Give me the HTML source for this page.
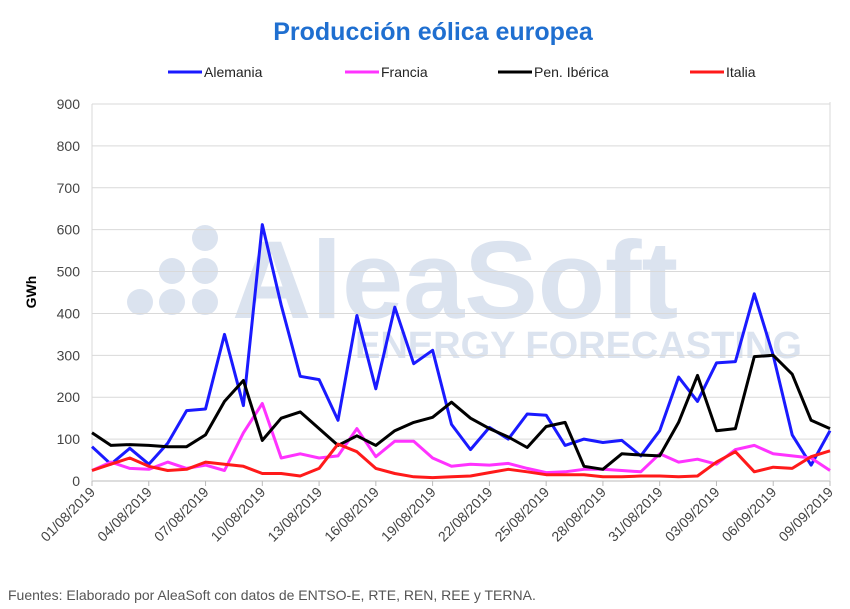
<!DOCTYPE html>
<html><head><meta charset="utf-8"><style>
body{margin:0;background:#fff;width:850px;height:604px;overflow:hidden;font-family:"Liberation Sans",sans-serif}
</style></head><body>
<svg width="850" height="604" viewBox="0 0 850 604" xmlns="http://www.w3.org/2000/svg">
<text x="433" y="40" text-anchor="middle" font-size="25" font-weight="bold" fill="#1f6fd0">Producción eólica europea</text>
<g id="legend"></g>
<g fill="#dbe3ef">
<circle cx="205" cy="238" r="13"/><circle cx="172" cy="271" r="13"/><circle cx="205" cy="271" r="13"/><circle cx="140" cy="302" r="13"/><circle cx="172" cy="302" r="13"/><circle cx="205" cy="302" r="13"/>
<text x="232" y="318" font-size="110" font-weight="bold">AleaSoft</text>
<text x="355" y="358" font-size="38" font-weight="bold">ENERGY FORECASTING</text>
</g>
<g id="grid"></g><g id="axes"></g><g id="series"></g>
<text x="36" y="292" transform="rotate(-90 36 292)" text-anchor="middle" font-size="14" font-weight="bold" fill="#000">GWh</text>
<text x="8" y="600" font-size="14" fill="#555">Fuentes: Elaborado por AleaSoft con datos de ENTSO-E, RTE, REN, REE y TERNA.</text>
</svg>
<script>
const seriesNames=["Alemania","Francia","Pen. Ibérica","Italia"];
const seriesColors=["#1a1aff","#ff33ff","#000000","#ff1a1a"];
const alemania=[82,40,78,40,90,168,172,350,180,612,420,250,242,145,395,220,415,280,312,135,75,128,100,160,157,85,100,92,97,60,120,248,190,282,285,447,300,110,38,120];
const francia=[25,45,30,28,45,30,38,25,115,185,55,65,55,60,125,58,95,95,55,35,40,38,42,30,20,22,28,28,25,22,65,45,52,40,75,85,65,60,55,25];
const iberica=[115,85,87,85,82,82,110,190,240,97,150,165,125,85,108,85,120,140,152,188,150,125,105,80,130,140,35,28,65,62,60,140,252,120,125,297,300,255,145,125];
const italia=[25,40,55,35,25,28,45,40,35,18,18,12,30,88,70,30,18,10,8,10,12,20,28,22,15,15,15,10,10,12,12,10,12,45,70,22,33,30,58,72];
const yTicks=[0,100,200,300,400,500,600,700,800,900];
const xTickLabels=["01/08/2019","04/08/2019","07/08/2019","10/08/2019","13/08/2019","16/08/2019","19/08/2019","22/08/2019","25/08/2019","28/08/2019","31/08/2019","03/09/2019","06/09/2019","09/09/2019"];
const allSeries=[alemania,francia,iberica,italia];
const NS="http://www.w3.org/2000/svg";
const X0=92,X1=830,Y0=481,Y1=104;
const n=alemania.length;
const xs=i=>X0+(X1-X0)*i/(n-1);
const ys=v=>Y0-(Y0-Y1)*v/900;
function mk(t,a,p){const e=document.createElementNS(NS,t);for(const k in a)e.setAttribute(k,a[k]);p.appendChild(e);return e;}
const grid=document.getElementById('grid'),axes=document.getElementById('axes'),ser=document.getElementById('series'),leg=document.getElementById('legend');
yTicks.forEach(v=>{
 const l=mk('line',{x1:X0,x2:X1,y1:ys(v),y2:ys(v),stroke:v===0?'#bbb':'#d9d9d9','stroke-width':1},grid);
 
 
 const t=mk('text',{x:X0-12,y:ys(v)+5,'text-anchor':'end','font-size':14,fill:'#444'},axes);
 t.textContent=v;
 
 
});
const rb=mk('line',{x1:X1,x2:X1,y1:Y1-2,y2:Y0,stroke:'#d9d9d9'},grid);


mk('line',{x1:X0,x2:X0,y1:Y1,y2:Y0,stroke:'#d9d9d9'},grid);
xTickLabels.forEach((lab,k)=>{
 const x=xs(k*3);
 mk('line',{x1:x,x2:x,y1:Y0,y2:Y0+5,stroke:'#bbb'},axes);
 const t=mk('text',{x:x+4,y:Y0+12,'text-anchor':'end','font-size':14,fill:'#444',transform:`rotate(-45 ${x+4} ${Y0+12})`},axes);
 t.textContent=lab;
 
 
});
allSeries.forEach((d,s)=>{
 const p=mk('polyline',{points:d.map((v,i)=>xs(i).toFixed(1)+','+ys(v).toFixed(1)).join(' '),fill:'none',stroke:seriesColors[s],'stroke-width':3,'stroke-linejoin':'round'},ser);
 
 
});
const legX=[168,345,498,690];
seriesNames.forEach((nm,s)=>{
 const g=mk('g',{},leg);
 
 
 mk('line',{x1:legX[s],x2:legX[s]+34,y1:72,y2:72,stroke:seriesColors[s],'stroke-width':3},g);
 const t=mk('text',{x:legX[s]+36,y:77,'font-size':14,fill:'#222'},g);
 t.textContent=nm;
});
</script>
</body></html>
